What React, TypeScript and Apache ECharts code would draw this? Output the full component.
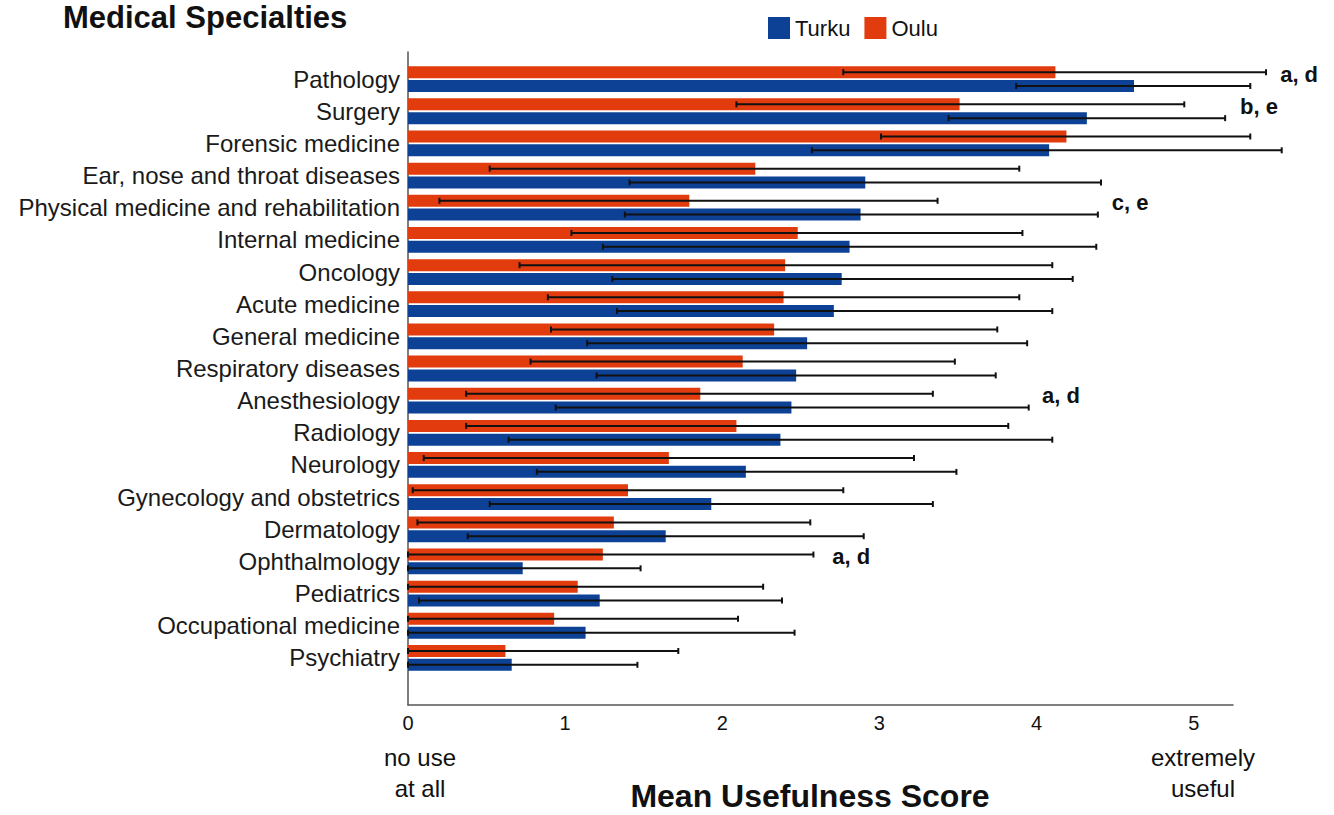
import React, { useEffect, useRef } from "react";
import * as echarts from "echarts";

const categories = [
  "Pathology",
  "Surgery",
  "Forensic medicine",
  "Ear, nose and throat diseases",
  "Physical medicine and rehabilitation",
  "Internal medicine",
  "Oncology",
  "Acute medicine",
  "General medicine",
  "Respiratory diseases",
  "Anesthesiology",
  "Radiology",
  "Neurology",
  "Gynecology and obstetrics",
  "Dermatology",
  "Ophthalmology",
  "Pediatrics",
  "Occupational medicine",
  "Psychiatry",
];

const turkuMean = [4.62, 4.32, 4.08, 2.91, 2.88, 2.81, 2.76, 2.71, 2.54, 2.47, 2.44, 2.37, 2.15, 1.93, 1.64, 0.73, 1.22, 1.13, 0.66];
const turkuLow = [3.87, 3.44, 2.57, 1.41, 1.38, 1.24, 1.3, 1.33, 1.14, 1.2, 0.94, 0.64, 0.82, 0.52, 0.38, 0, 0.07, 0, 0];
const turkuHigh = [5.36, 5.2, 5.56, 4.41, 4.39, 4.38, 4.23, 4.1, 3.94, 3.74, 3.95, 4.1, 3.49, 3.34, 2.9, 1.48, 2.38, 2.46, 1.46];

const ouluMean = [4.12, 3.51, 4.19, 2.21, 1.79, 2.48, 2.4, 2.39, 2.33, 2.13, 1.86, 2.09, 1.66, 1.4, 1.31, 1.24, 1.08, 0.93, 0.62];
const ouluLow = [2.77, 2.09, 3.01, 0.52, 0.2, 1.04, 0.71, 0.89, 0.91, 0.78, 0.37, 0.37, 0.1, 0.03, 0.06, 0, 0, 0, 0];
const ouluHigh = [5.46, 4.94, 5.36, 3.89, 3.37, 3.91, 4.1, 3.89, 3.75, 3.48, 3.34, 3.82, 3.22, 2.77, 2.56, 2.58, 2.26, 2.1, 1.72];

const annotCategory = ["Pathology", "Surgery", "Physical medicine and rehabilitation", "Anesthesiology", "Ophthalmology"];
const annotX = [5.55, 5.295, 4.478, 4.035, 2.7];
const annotText = ["a, d", "b, e", "c, e", "a, d", "a, d"];

const xTickValues = [0, 1, 2, 3, 4, 5];
const xMax = 5.25;

const BLUE = "#0d4195";
const RED = "#e23b0e";
const FONT = "Liberation Sans, Arial, sans-serif";

const BAR_W = 12;
const BAR_GAP = "15%";
const HALF_OFF = 6.9;

function errSeries(name: string, low: number[], high: number[], sign: number) {
  return {
    type: "custom",
    name: name + "-err",
    xAxisIndex: 1,
    yAxisIndex: 1,
    silent: true,
    z: 5,
    data: categories.map((_, i) => [i, low[i], high[i]]),
    encode: { x: [1, 2], y: 0 },
    renderItem: (params: any, api: any) => {
      const c = api.value(0);
      const p1 = api.coord([api.value(1), c]);
      const p2 = api.coord([api.value(2), c]);
      const y = p1[1] + sign * HALF_OFF;
      const st = { stroke: "#111", lineWidth: 2 };
      return {
        type: "group",
        children: [
          { type: "line", shape: { x1: p1[0], y1: y, x2: p2[0], y2: y }, style: st },
          { type: "line", shape: { x1: p1[0], y1: y - 3, x2: p1[0], y2: y + 3 }, style: st },
          { type: "line", shape: { x1: p2[0], y1: y - 3, x2: p2[0], y2: y + 3 }, style: st },
        ],
      };
    },
  };
}

export default function App() {
  const ref = useRef<HTMLDivElement>(null);
  useEffect(() => {
    if (!ref.current) return;
    const chart = echarts.init(ref.current, undefined, { renderer: "svg" });
    const gridLeft = 408;
    const gridRight = 1334 - 1233;
    chart.setOption({
      animation: false,
      textStyle: { fontFamily: FONT },
      legend: {
        data: ["Turku", "Oulu"],
        left: 763,
        top: 12,
        itemWidth: 22,
        itemHeight: 22,
        itemGap: 14,
        icon: "rect",
        textStyle: { fontSize: 22, color: "#111", fontFamily: FONT },
      },
      grid: [
        { left: gridLeft, right: gridRight, top: 52, height: 653, containLabel: false },
        { left: gridLeft, right: gridRight, top: 63, height: 611, containLabel: false },
      ],
      xAxis: [
        {
          type: "value",
          gridIndex: 0,
          min: 0,
          max: xMax,
          interval: 1,
          axisLine: { show: true, lineStyle: { color: "#555", width: 1.5 } },
          axisTick: { show: false },
          splitLine: { show: false },
          axisLabel: {
            fontSize: 20,
            color: "#111",
            margin: 8,
            fontFamily: FONT,
            formatter: (v: number) => (xTickValues.includes(v) ? String(v) : ""),
          },
        },
        { type: "value", gridIndex: 1, min: 0, max: xMax, show: false },
      ],
      yAxis: [
        {
          type: "value",
          gridIndex: 0,
          min: 0,
          max: 1,
          axisLine: { show: true, onZero: false, lineStyle: { color: "#555", width: 1.5 } },
          axisTick: { show: false },
          axisLabel: { show: false },
          splitLine: { show: false },
        },
        {
          type: "category",
          gridIndex: 1,
          data: categories,
          inverse: true,
          axisLine: { show: false },
          axisTick: { show: false },
          axisLabel: { fontSize: 24, color: "#1a1a1a", margin: 8, fontFamily: FONT },
        },
      ],
      series: [
        {
          type: "bar",
          name: "Oulu",
          xAxisIndex: 1,
          yAxisIndex: 1,
          data: ouluMean,
          barWidth: BAR_W,
          barGap: BAR_GAP,
          itemStyle: { color: RED },
        },
        {
          type: "bar",
          name: "Turku",
          xAxisIndex: 1,
          yAxisIndex: 1,
          data: turkuMean,
          barWidth: BAR_W,
          barGap: BAR_GAP,
          itemStyle: { color: BLUE },
        },
        errSeries("Oulu", ouluLow, ouluHigh, -1),
        errSeries("Turku", turkuLow, turkuHigh, 1),
        {
          type: "custom",
          name: "annot",
          xAxisIndex: 1,
          yAxisIndex: 1,
          silent: true,
          data: annotCategory.map((c, i) => [annotX[i], categories.indexOf(c)]),
          encode: { x: 0, y: 1 },
          renderItem: (params: any, api: any) => {
            const p = api.coord([api.value(0), api.value(1)]);
            return {
              type: "text",
              x: p[0],
              y: p[1] - 5,
              style: {
                text: annotText[params.dataIndex],
                fontSize: 22,
                fontWeight: "bold",
                fontFamily: FONT,
                fill: "#111",
                align: "left",
                verticalAlign: "middle",
              },
            };
          },
        },
      ],
      graphic: [
        {
          type: "text",
          left: 63,
          top: 2,
          style: { text: "Medical Specialties", fontSize: 31, fontWeight: "bold", fontFamily: FONT, fill: "#111" },
        },
        {
          type: "text",
          x: 420,
          y: 773,
          style: {
            text: "no use\nat all",
            fontSize: 24,
            lineHeight: 31,
            fontFamily: FONT,
            fill: "#111",
            align: "center",
            verticalAlign: "middle",
          },
        },
        {
          type: "text",
          x: 1203,
          y: 773,
          style: {
            text: "extremely\nuseful",
            fontSize: 24,
            lineHeight: 31,
            fontFamily: FONT,
            fill: "#111",
            align: "center",
            verticalAlign: "middle",
          },
        },
        {
          type: "text",
          x: 810,
          y: 796,
          style: {
            text: "Mean Usefulness Score",
            fontSize: 32,
            fontWeight: "bold",
            fontFamily: FONT,
            fill: "#111",
            align: "center",
            verticalAlign: "middle",
          },
        },
      ],
    });
    return () => chart.dispose();
  }, []);
  return <div ref={ref} style={{ width: 1334, height: 815, position: "absolute", left: 0, top: 0 }} />;
}
